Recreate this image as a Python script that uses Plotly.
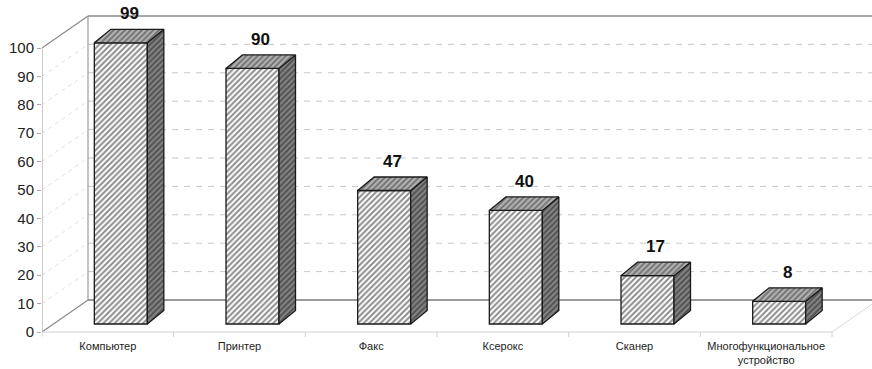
import plotly.graph_objects as go

# ---------------- data ----------------
categories = ["Компьютер", "Принтер", "Факс", "Ксерокс", "Сканер",
              "Многофункциональное<br>устройство"]
values = [99, 90, 47, 40, 17, 8]
y_ticks = [0, 10, 20, 30, 40, 50, 60, 70, 80, 90, 100]

# ---------------- geometry (pixel scale helpers) ----------------
W, H = 872, 369
ML, MB = 42, 31
PX_X = 131.667          # px per category unit
PX_Y = 2.84             # px per value unit
X0 = -0.5
XR = X0 + (W - ML) / PX_X
Y_BOTTOM_PX = H - MB
Y0 = -(Y_BOTTOM_PX - 332) / PX_Y
Y1 = Y0 + Y_BOTTOM_PX / PX_Y

WALL_DX = 46 / PX_X
WALL_DY = 32 / PX_Y
BAR_OFF_X = 13 / PX_X
BAR_OFF_Y = 8 / PX_Y
BAR_DX = 16.5 / PX_X
BAR_DY = 13.5 / PX_Y
BAR_W = 53 / PX_X
VMAX = 100
NCAT = len(categories)

FONT = "Arial, Liberation Sans, sans-serif"
pat = dict(shape="/", size=4, solidity=0.5)

fig = go.Figure()

# front faces
fig.add_trace(go.Bar(
    x=[i + BAR_OFF_X for i in range(NCAT)], y=values, base=BAR_OFF_Y,
    width=BAR_W,
    marker=dict(color="white",
                line=dict(color="#1a1a1a", width=1.3),
                pattern=dict(fgcolor="#1a1a1a", bgcolor="white", **pat)),
    hoverinfo="skip", showlegend=False))

# side and top faces
for i, v in enumerate(values):
    xl = i + BAR_OFF_X - BAR_W / 2
    xr = i + BAR_OFF_X + BAR_W / 2
    b = BAR_OFF_Y
    t = BAR_OFF_Y + v
    fig.add_trace(go.Scatter(
        x=[xr, xr + BAR_DX, xr + BAR_DX, xr, xr],
        y=[b, b + BAR_DY, t + BAR_DY, t, b],
        mode="lines", fill="toself", fillcolor="#858585",
        fillpattern=dict(fgcolor="#1e1e1e", bgcolor="#858585", **pat),
        line=dict(color="#1a1a1a", width=1.3),
        hoverinfo="skip", showlegend=False))
    fig.add_trace(go.Scatter(
        x=[xl, xl + BAR_DX, xr + BAR_DX, xr, xl],
        y=[t, t + BAR_DY, t + BAR_DY, t, t],
        mode="lines", fill="toself", fillcolor="#b4b4b4",
        fillpattern=dict(fgcolor="#333333", bgcolor="#b4b4b4", **pat),
        line=dict(color="#1a1a1a", width=1.3),
        hoverinfo="skip", showlegend=False))

# value labels
annotations = []
for i, v in enumerate(values):
    annotations.append(dict(
        x=i + BAR_OFF_X + BAR_DX / 2, y=BAR_OFF_Y + v + BAR_DY,
        xref="x", yref="y", text=f"<b>{v}</b>", showarrow=False,
        yanchor="bottom", yshift=4,
        font=dict(family=FONT, size=17, color="#111")))

# walls and grid
shapes = []
def line(x0, y0, x1, y1, color, width=1, dash="solid"):
    shapes.append(dict(type="line", xref="x", yref="y", x0=x0, y0=y0,
                       x1=x1, y1=y1, layer="below",
                       line=dict(color=color, width=width, dash=dash)))

bx = X0 + WALL_DX
for v in y_ticks[1:-1]:
    line(bx, v + WALL_DY, XR, v + WALL_DY, "#c8c8c8", 1, "6px,6px")
    line(X0, v, bx, v + WALL_DY, "#e0e0e0", 1, "4px,4px")
# back wall
line(bx, VMAX + WALL_DY, XR, VMAX + WALL_DY, "#8a8a8a", 1.5)
line(bx, WALL_DY, bx, VMAX + WALL_DY, "#9a9a9a", 1.2)
line(bx, WALL_DY, XR, WALL_DY, "#7a7a7a", 1.5)
# left wall
line(X0, 0, X0, VMAX, "#a8a8a8", 1.2)
line(X0, VMAX, bx, VMAX + WALL_DY, "#8a8a8a", 1.2)
line(X0, 0, bx, WALL_DY, "#8a8a8a", 1.2)
# floor front
line(X0, 0, X0 + NCAT, 0, "#d0d0d0", 1)
line(X0 + NCAT, 0, X0 + NCAT + WALL_DX, WALL_DY, "#d8d8d8", 1)
for k in range(NCAT + 1):
    line(X0 + k, 0, X0 + k, -5 / PX_Y, "#d0d0d0", 1)

fig.update_layout(
    width=W, height=H,
    margin=dict(l=ML, r=0, t=0, b=MB),
    paper_bgcolor="white", plot_bgcolor="white",
    barmode="overlay", showlegend=False, hovermode=False,
    shapes=shapes, annotations=annotations,
    font=dict(family=FONT, color="#222"),
    xaxis=dict(range=[X0, XR], tickvals=list(range(NCAT)),
               ticktext=categories, showgrid=False, zeroline=False,
               showline=False, ticks="", automargin=False,
               tickfont=dict(size=11, color="#222"), fixedrange=True),
    yaxis=dict(range=[Y0, Y1], tickvals=y_ticks, showgrid=False,
               zeroline=False, showline=False, ticks="outside", ticklen=4,
               tickcolor="#a8a8a8", automargin=False,
               tickfont=dict(size=15, color="#222"), fixedrange=True),
)

fig.write_html("out.html")
